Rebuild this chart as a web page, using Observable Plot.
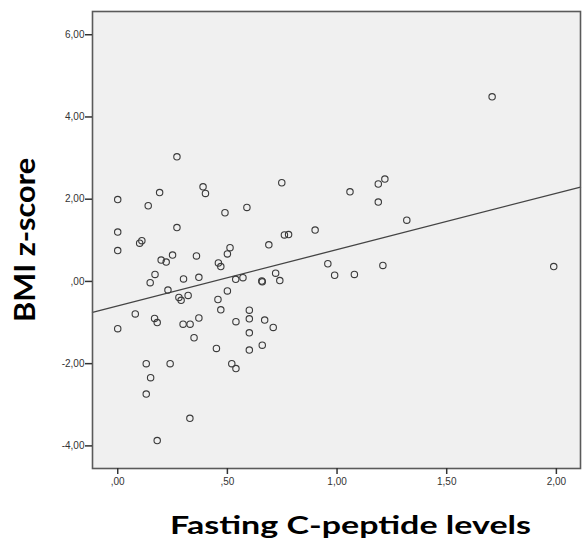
<!DOCTYPE html>
<html><head><meta charset="utf-8">
<script src="https://cdn.jsdelivr.net/npm/d3@7"></script>
<script src="https://cdn.jsdelivr.net/npm/@observablehq/plot@0.6"></script>
<style>
body{margin:0;background:#fff;}
#chart svg{display:block;}
</style>
</head><body><div id="chart"></div>
<script>
// Fasting C-peptide levels (x) and BMI z-score (y)
const cpeptide = [
  0.270, 0.389, 0.400, 0.191, 0.000, 0.139, 0.748, 0.589, 0.489, 0.270,
  0.000, 0.900, 0.760, 0.779, 0.689, 0.110, 0.100, 0.000, 0.512, 0.500,
  0.250, 0.359, 0.198, 0.221, 0.459, 0.470, 0.958, 0.989, 0.170, 0.720,
  0.148, 0.300, 0.370, 0.538, 0.571, 0.657, 0.659, 0.739, 0.229, 0.279,
  0.289, 0.321, 0.500, 0.457, 0.470, 0.080, 0.168, 0.180, 0.000, 0.298,
  0.330, 0.370, 0.348, 0.539, 0.600, 0.600, 0.600, 0.670, 0.709, 0.600,
  0.659, 0.450, 0.130, 0.239, 0.520, 0.539, 0.150, 0.130, 0.329, 0.180,
  1.707, 1.218, 1.188, 1.059, 1.188, 1.318, 1.079, 1.209, 1.988
];
const bmiZ = [
  3.03, 2.30, 2.14, 2.16, 1.99, 1.84, 2.40, 1.80, 1.67, 1.31,
  1.20, 1.25, 1.13, 1.14, 0.89, 0.99, 0.93, 0.75, 0.82, 0.67,
  0.64, 0.62, 0.52, 0.47, 0.45, 0.36, 0.43, 0.15, 0.17, 0.20,
  -0.03, 0.06, 0.10, 0.05, 0.09, 0.01, -0.01, 0.02, -0.21, -0.39,
  -0.46, -0.34, -0.23, -0.44, -0.69, -0.79, -0.90, -1.00, -1.15, -1.04,
  -1.04, -0.89, -1.37, -0.98, -0.70, -0.91, -1.25, -0.94, -1.12, -1.67,
  -1.55, -1.63, -2.00, -2.00, -2.00, -2.12, -2.34, -2.74, -3.33, -3.87,
  4.49, 2.49, 2.37, 2.18, 1.93, 1.49, 0.17, 0.39, 0.36
];
const xTicks = [0, 0.5, 1, 1.5, 2];
const yTicks = [-4, -2, 0, 2, 4, 6];
const xDomain = [-0.115, 2.110];
const yDomain = [-4.55, 6.565];
const xLabel = "Fasting C-peptide levels";
const yLabel = "BMI z-score";

const points = cpeptide.map((x, i) => ({x, y: bmiZ[i]}));

// ordinary least-squares fit line, drawn across the whole frame
const mx = d3.mean(cpeptide), my = d3.mean(bmiZ);
const slope = d3.sum(points, d => (d.x - mx) * (d.y - my)) / d3.sum(points, d => (d.x - mx) ** 2);
const intercept = my - slope * mx;
const fit = xDomain.map(x => ({x, y: intercept + slope * x}));

const fmt = d => (d < 0 ? "-" : "") + Math.abs(d).toFixed(2).replace(".", ",").replace(/^0,/, ",");

const chart = Plot.plot({
  width: 583,
  height: 544,
  marginLeft: 92,
  marginRight: 3,
  marginTop: 11,
  marginBottom: 76,
  style: {background: "#fff", fontFamily: "'Liberation Sans', Arial, sans-serif"},
  x: {domain: xDomain},
  y: {domain: yDomain},
  marks: [
    Plot.frame({fill: "#f0f0f0", stroke: "none"}),
    Plot.line(fit, {x: "x", y: "y", stroke: "#444", strokeWidth: 1.3}),
    Plot.dot(points, {x: "x", y: "y", r: 3.2, stroke: "#3a3a3a", strokeWidth: 1.1, fill: "none"}),
    Plot.frame({stroke: "#5a5a5a", strokeWidth: 1.6}),
    Plot.axisX(xTicks, {tickSize: 6, tickPadding: 3, tickFormat: fmt, fontSize: 10, color: "#333", strokeWidth: 1.5, label: null}),
    Plot.axisY(yTicks, {tickSize: 7, tickPadding: 1, tickFormat: fmt, fontSize: 10, color: "#333", strokeWidth: 1.5, label: null}),
    Plot.text([xLabel], {text: d => d, frameAnchor: "bottom", dy: 58, dx: 14, lineAnchor: "middle", textAnchor: "middle",
      fontSize: 24, fontWeight: "bold", fontFamily: "Lato, sans-serif", fill: "#000"}),
    Plot.text([yLabel], {text: d => d, frameAnchor: "left", rotate: -90, dx: -66, dy: 0, lineAnchor: "middle", textAnchor: "middle",
      fontSize: 28, fontWeight: "bold", fontFamily: "Lato, sans-serif", fill: "#000"})
  ]
});
// stretch the two axis titles to the widths they have in the reference
const titles = chart.querySelectorAll('g[aria-label="text"] text');
const titleLengths = [361, 164];
titles.forEach((t, i) => {
  t.setAttribute("textLength", titleLengths[i]);
  t.setAttribute("lengthAdjust", "spacingAndGlyphs");
});
document.getElementById("chart").appendChild(chart);
</script>
</body></html>
